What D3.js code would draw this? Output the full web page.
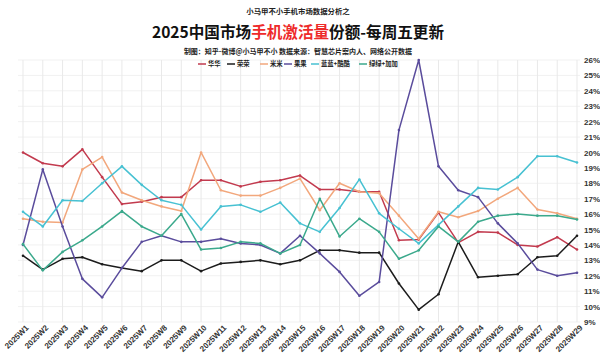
<!DOCTYPE html>
<html>
<head>
<meta charset="utf-8">
<script src="https://cdn.jsdelivr.net/npm/d3@7/dist/d3.min.js"></script>
<style>
  body { margin: 0; background: #fff; }
  svg { display: block; font-family: "Noto Sans CJK SC", "Noto Sans", sans-serif; }
</style>
</head>
<body>
<svg id="chart"></svg>
<script>
const weeks = d3.range(1, 30).map((i) => "2025W" + i);
const yTicks = d3.range(9, 27);

const huawei = [20.0, 19.3, 19.1, 20.2, 18.4, 16.65, 16.8, 17.1, 17.1, 18.2,
  18.2, 17.8, 18.1, 18.2, 18.5, 17.6, 17.6, 17.45, 17.45, 14.3,
  14.35, 16.1, 14.15, 14.85, 14.8, 14.0, 13.9, 14.5, 13.7];
const honor = [13.3, 12.4, 13.1, 13.2, 12.75, 12.5, 12.3, 13.0, 13.0, 12.3,
  12.8, 12.9, 13.0, 12.75, 13.0, 13.65, 13.65, 13.5, 13.5, 11.5,
  9.8, 10.8, 14.2, 11.9, 12.0, 12.1, 13.2, 13.3, 14.6];
const xiaomi = [15.7, 15.5, 15.45, 18.9, 19.7, 17.4, 16.9, 16.5, 16.2, 20.0,
  17.55, 17.2, 17.2, 17.7, 18.3, 16.25, 18.0, 17.45, 17.35, 15.9,
  14.4, 16.15, 15.8, 16.2, 17.0, 17.7, 16.3, 16.05, 15.7];
const apple = [14.0, 18.9, 15.2, 11.8, 10.6, 12.5, 14.2, 14.6, 14.2, 14.2,
  14.4, 14.1, 14.0, 13.45, 14.6, 13.45, 12.25, 10.7, 11.6, 21.45,
  26.0, 19.1, 17.55, 17.1, 15.4, 14.1, 12.4, 12.0, 12.2];
const vivo = [16.15, 15.2, 16.9, 16.85, 18.0, 19.1, 17.9, 16.9, 16.6, 15.0,
  16.5, 16.6, 16.15, 16.75, 15.4, 14.85, 16.4, 18.25, 16.05, 15.05,
  14.1, 15.3, 16.5, 17.7, 17.6, 18.4, 19.75, 19.75, 19.35];
const oppo = [14.05, 12.35, 13.55, 14.3, 15.2, 16.2, 15.2, 14.6, 16.0, 13.7,
  13.8, 14.2, 14.1, 13.45, 14.0, 17.0, 14.55, 15.7, 14.85, 13.1,
  13.65, 15.2, 14.2, 15.5, 15.9, 16.0, 15.9, 15.9, 15.65];

const seriesNames = ["华华", "荣荣", "米米", "果果", "蓝蓝+酷酷", "绿绿+加加"];
const seriesValues = [huawei, honor, xiaomi, apple, vivo, oppo];
const colors = ["#c23a4e", "#1c1c1c", "#f2a77c", "#5a4c9c", "#47c1d2", "#3ba98c"];

const width = 600, height = 361;
const svg = d3.select("#chart").attr("width", width).attr("height", height);

const x = d3.scalePoint().domain(weeks).range([23, 577]);
const y = d3.scaleLinear().domain([9, 26]).range([322, 60]);

// grid
svg.append("g").selectAll("line").data(yTicks).join("line")
  .attr("x1", 18).attr("x2", 580)
  .attr("y1", (d) => y(d)).attr("y2", (d) => y(d))
  .attr("stroke", "#f1f1f1").attr("stroke-width", 1);
svg.append("g").selectAll("line").data(weeks).join("line")
  .attr("x1", (d) => x(d)).attr("x2", (d) => x(d))
  .attr("y1", y(26)).attr("y2", y(9))
  .attr("stroke", "#e9e9e9").attr("stroke-width", 1);

// right axis labels
const yAxis = svg.append("g")
  .attr("transform", "translate(580,0)")
  .call(d3.axisRight(y).tickValues(yTicks).tickSize(0).tickPadding(4)
    .tickFormat((d) => d + "%"));
yAxis.select(".domain").remove();
yAxis.selectAll("text").attr("font-size", 8).attr("font-weight", "bold")
  .attr("fill", "#333");

// bottom axis labels, rotated
const xAxis = svg.append("g")
  .attr("transform", "translate(0,326)")
  .call(d3.axisBottom(x).tickSize(0).tickPadding(0));
xAxis.select(".domain").remove();
xAxis.selectAll("text")
  .attr("font-size", 8).attr("font-weight", "bold").attr("fill", "#333")
  .attr("text-anchor", "end").attr("dy", "0.7em").attr("dx", "0.3em")
  .attr("transform", "rotate(-45)");

// lines
const line = d3.line().x((d, i) => x(weeks[i])).y((d) => y(d));
seriesValues.forEach((vals, k) => {
  svg.append("path").datum(vals)
    .attr("fill", "none").attr("stroke", colors[k])
    .attr("stroke-width", 1.5).attr("stroke-linejoin", "round")
    .attr("d", line);
  svg.append("g").selectAll("circle").data(vals).join("circle")
    .attr("cx", (d, i) => x(weeks[i])).attr("cy", (d) => y(d))
    .attr("r", 1.3).attr("fill", colors[k]);
});

// titles
svg.append("text").attr("x", 298).attr("y", 14).attr("text-anchor", "middle")
  .attr("font-size", 7.4).attr("font-weight", "bold").attr("fill", "#222")
  .text("小马甲不小手机市场数据分析之");
const title = svg.append("text").attr("x", 298).attr("y", 38)
  .attr("text-anchor", "middle").attr("font-size", 15.6).attr("font-weight", "bold")
  .attr("fill", "#111");
title.append("tspan").text("2025中国市场");
title.append("tspan").attr("fill", "#ee2b2b").text("手机激活量");
title.append("tspan").text("份额-每周五更新");
svg.append("text").attr("x", 298).attr("y", 54).attr("text-anchor", "middle")
  .attr("font-size", 7).attr("font-weight", "bold").attr("fill", "#222")
  .text("制图：知乎-微博@小马甲不小   数据来源：智慧芯片案内人、网络公开数据");

// legend
const legendX = [198, 227, 260, 284, 311, 359];
const legend = svg.append("g").selectAll("g").data(seriesNames).join("g")
  .attr("transform", (d, i) => `translate(${legendX[i]},64)`);
legend.append("line").attr("x1", 0).attr("x2", 8)
  .attr("stroke", (d, i) => colors[i]).attr("stroke-width", 1.5);
legend.append("text").attr("x", 10).attr("y", 2.3)
  .attr("font-size", 6.3).attr("font-weight", "bold").attr("fill", "#222")
  .text((d) => d);
</script>
</body>
</html>
